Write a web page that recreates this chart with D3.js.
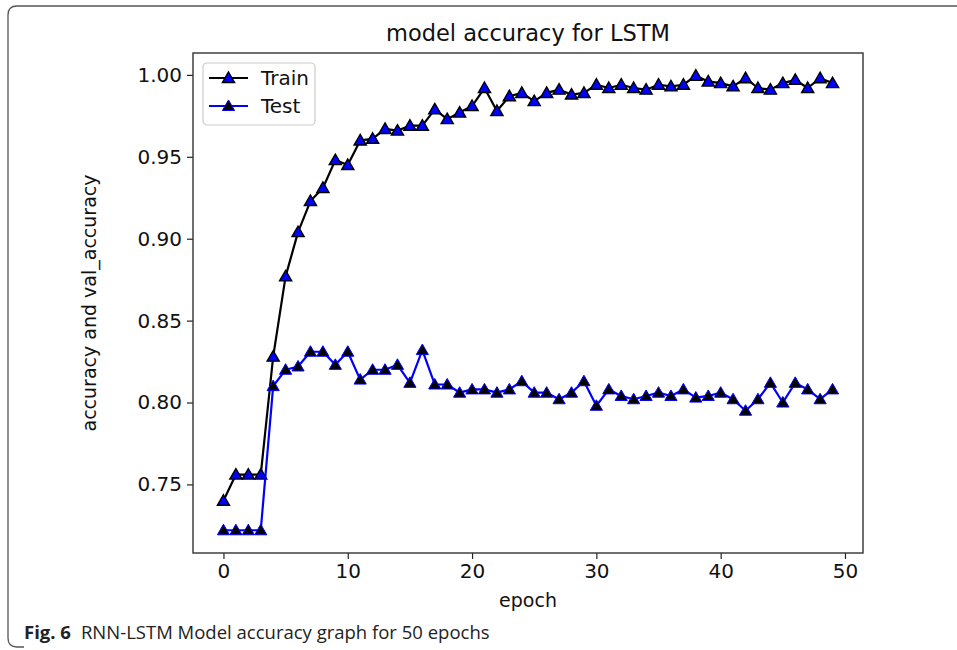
<!DOCTYPE html>
<html>
<head>
<meta charset="utf-8">
<script src="https://cdn.jsdelivr.net/npm/d3@7"></script>
<style>
  body{margin:0;background:#fff;}
  svg{display:block;}
</style>
</head>
<body>
<div id="chart"></div>
<script>
"use strict";
// model accuracy for LSTM — train / test accuracy per epoch
const trainAcc = [0.740,0.756,0.756,0.756,0.828,0.877,0.904,0.923,0.931,0.948,
                  0.945,0.960,0.961,0.967,0.966,0.969,0.969,0.979,0.973,0.977,
                  0.981,0.992,0.978,0.987,0.989,0.984,0.989,0.991,0.988,0.989,
                  0.994,0.992,0.994,0.992,0.991,0.994,0.993,0.994,0.9995,0.996,
                  0.995,0.993,0.998,0.992,0.991,0.995,0.997,0.992,0.998,0.995];
const testAcc  = [0.722,0.722,0.722,0.722,0.810,0.820,0.822,0.831,0.831,0.823,
                  0.831,0.814,0.820,0.820,0.823,0.812,0.832,0.811,0.811,0.806,
                  0.808,0.808,0.806,0.808,0.813,0.806,0.806,0.802,0.806,0.813,
                  0.798,0.808,0.804,0.802,0.804,0.806,0.804,0.808,0.803,0.804,
                  0.806,0.802,0.795,0.802,0.812,0.800,0.812,0.808,0.802,0.808];
const seriesNames = ["Train","Test"];
const xTicks = [0,10,20,30,40,50];
const yTicks = [0.75,0.80,0.85,0.90,0.95,1.00];

const W = 957, H = 650;
const plot = {left:193, right:863, top:53, bottom:553};
const FONT = "'DejaVu Sans', sans-serif";

const svg = d3.select("#chart").append("svg").attr("width",W).attr("height",H);

// outer figure box (journal frame): top + left edge with rounded corners
svg.append("path")
  .attr("d",`M${W+2},6 L17,6 Q8,6 8,15 L8,638 Q8,647 17,647 L24,647`)
  .attr("fill","none").attr("stroke","#555").attr("stroke-width",1.3);

// scales like matplotlib autoscale (5% margins)
const n = trainAcc.length;
const all = trainAcc.concat(testAcc);
const yMin = d3.min(all), yMax = d3.max(all), yPad = (yMax-yMin)*0.05;
const xPad = (n-1)*0.05;
const x = d3.scaleLinear().domain([-xPad, n-1+xPad]).range([plot.left, plot.right]);
const y = d3.scaleLinear().domain([yMin-yPad, yMax+yPad]).range([plot.bottom, plot.top]);

// axes
const gx = svg.append("g").attr("transform",`translate(0,${plot.bottom})`)
  .call(d3.axisBottom(x).tickValues(xTicks).tickSize(6).tickPadding(5).tickFormat(d3.format("d")));
const gy = svg.append("g").attr("transform",`translate(${plot.left},0)`)
  .call(d3.axisLeft(y).tickValues(yTicks).tickSize(6).tickPadding(5).tickFormat(d3.format(".2f")));
[gx,gy].forEach(g=>{
  g.select(".domain").remove();
  g.selectAll(".tick line").attr("stroke","#222").attr("stroke-width",1.2);
  g.selectAll(".tick text").attr("fill","#111").attr("font-family",FONT).attr("font-size",20);
});

// frame
svg.append("rect").attr("x",plot.left).attr("y",plot.top)
  .attr("width",plot.right-plot.left).attr("height",plot.bottom-plot.top)
  .attr("fill","none").attr("stroke","#333").attr("stroke-width",1.4);

// series: train = black line, blue triangles with black edge; test = blue line, black triangles with blue edge
const styles = [
  {line:"#000000", fill:"#0000ff", edge:"#000000", ew:1.4},
  {line:"#0000ff", fill:"#000000", edge:"#0000ff", ew:1.0}
];
const tri = d3.symbol().type(d3.symbolTriangle).size(64);
const lineGen = d3.line().x((d,i)=>x(i)).y(d=>y(d));
[trainAcc,testAcc].forEach((vals,k)=>{
  const s = styles[k];
  const g = svg.append("g");
  g.append("path").attr("d",lineGen(vals)).attr("fill","none")
    .attr("stroke",s.line).attr("stroke-width",2.2).attr("stroke-linejoin","round");
  g.selectAll("path.m").data(vals).join("path").attr("class","m")
    .attr("d",tri).attr("transform",(d,i)=>`translate(${x(i)},${y(d)+1})`)
    .attr("fill",s.fill).attr("stroke",s.edge).attr("stroke-width",s.ew);
});

// legend
const lg = svg.append("g").attr("transform","translate(203,63)");
lg.append("rect").attr("width",112).attr("height",62).attr("rx",4)
  .attr("fill","#fff").attr("fill-opacity",0.85).attr("stroke","#ccc").attr("stroke-width",1.2);
seriesNames.forEach((name,k)=>{
  const s = styles[k], cy = 15 + k*28;
  lg.append("line").attr("x1",6).attr("x2",45).attr("y1",cy).attr("y2",cy)
    .attr("stroke",s.line).attr("stroke-width",2.2);
  lg.append("path").attr("d",tri).attr("transform",`translate(25.5,${cy+1})`)
    .attr("fill",s.fill).attr("stroke",s.edge).attr("stroke-width",s.ew);
  lg.append("text").attr("x",58).attr("y",cy).attr("dy","0.35em")
    .attr("font-family",FONT).attr("font-size",20).attr("fill","#111").text(name);
});

// titles
svg.append("text").attr("x",(plot.left+plot.right)/2).attr("y",41).attr("text-anchor","middle")
  .attr("font-family",FONT).attr("font-size",22.5).attr("fill","#111").text("model accuracy for LSTM");
svg.append("text").attr("x",(plot.left+plot.right)/2).attr("y",607).attr("text-anchor","middle")
  .attr("font-family",FONT).attr("font-size",19).attr("fill","#111").text("epoch");
svg.append("text").attr("transform",`translate(96,${(plot.top+plot.bottom)/2}) rotate(-90)`)
  .attr("text-anchor","middle").attr("font-family",FONT).attr("font-size",19).attr("fill","#111")
  .text("accuracy and val_accuracy");

// caption
const cap = svg.append("text").attr("x",24).attr("y",639)
  .attr("font-family","'Open Sans', sans-serif").attr("font-size",18.5).attr("fill","#222");
cap.append("tspan").attr("font-weight",700).text("Fig. 6");
cap.append("tspan").attr("dx",10).text("RNN-LSTM Model accuracy graph for 50 epochs");
</script>
</body>
</html>
